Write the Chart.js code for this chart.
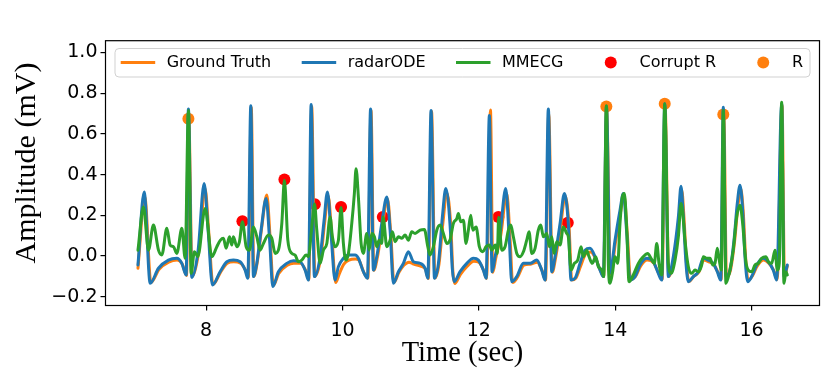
<!DOCTYPE html>
<html>
<head>
<meta charset="utf-8">
<script src="https://cdn.jsdelivr.net/npm/chart.js@4.4.1/dist/chart.umd.min.js"></script>
<style>
html,body{margin:0;padding:0;background:#fff;}
canvas{display:block;}
</style>
</head>
<body>
<canvas id="c" width="830" height="382"></canvas>
<script>
// ---------------- DATA ----------------
const seriesLabels = ['Ground Truth', 'radarODE', 'MMECG', 'Corrupt R', 'R'];
const xTitle = 'Time (sec)';
const yTitle = 'Amplitude (mV)';
const xTicks = [8, 10, 12, 14, 16];
const yTicks = [-0.2, 0.0, 0.2, 0.4, 0.6, 0.8, 1.0];

const gtT = [7.000,7.100,7.190,7.310,7.450,7.575,7.650,7.712,7.745,7.795,7.890,7.985,8.040,8.100,8.210,8.310,8.405,8.505,8.578,8.618,8.662,8.700,8.750,8.815,8.890,8.940,8.985,9.065,9.190,9.285,9.385,9.458,9.506,9.548,9.595,9.680,9.740,9.790,9.845,9.900,9.950,10.020,10.095,10.190,10.240,10.312,10.372,10.418,10.460,10.510,10.585,10.660,10.708,10.755,10.828,10.900,10.975,11.045,11.145,11.218,11.258,11.306,11.356,11.415,11.475,11.530,11.590,11.618,11.645,11.730,11.830,11.925,12.000,12.072,12.112,12.170,12.205,12.248,12.320,12.410,12.460,12.495,12.565,12.660,12.758,12.855,12.928,12.978,13.025,13.076,13.125,13.200,13.265,13.322,13.362,13.420,13.492,13.565,13.638,13.710,13.782,13.830,13.872,13.930,14.005,14.078,14.128,14.178,14.225,14.298,14.372,14.470,14.565,14.638,14.688,14.730,14.786,14.860,14.935,14.975,15.010,15.046,15.080,15.152,15.225,15.298,15.372,15.445,15.504,15.553,15.592,15.632,15.690,15.750,15.800,15.840,15.878,15.912,15.950,16.008,16.082,16.178,16.252,16.325,16.375,16.447,16.482,16.524];
const gtV = [-0.060,0.290,-0.130,-0.065,-0.030,-0.020,-0.040,-0.095,0.674,-0.100,0.020,0.330,0.110,-0.140,-0.080,-0.035,-0.028,-0.035,-0.070,-0.105,0.730,-0.100,-0.030,0.140,0.300,0.080,-0.145,-0.085,-0.045,-0.035,-0.035,-0.070,-0.115,0.735,-0.100,-0.010,0.170,0.295,0.090,-0.130,-0.090,-0.040,-0.020,-0.015,-0.020,-0.080,-0.108,0.715,-0.070,-0.010,0.150,0.280,0.110,-0.130,-0.080,-0.045,-0.030,-0.040,-0.050,-0.065,-0.110,0.710,-0.108,-0.040,0.170,0.310,0.140,-0.070,-0.135,-0.090,-0.050,-0.025,-0.030,-0.072,-0.110,0.717,-0.080,-0.010,0.100,0.306,0.070,-0.130,-0.105,-0.045,-0.040,-0.030,-0.072,-0.118,0.700,-0.080,-0.010,0.150,0.295,0.150,-0.118,-0.110,-0.050,0.010,0.020,-0.010,-0.070,-0.100,0.735,-0.090,0.070,0.215,0.300,0.105,-0.115,-0.100,-0.050,-0.020,-0.035,-0.085,-0.115,0.748,-0.100,-0.010,0.185,0.325,0.180,-0.040,-0.125,-0.100,-0.080,-0.020,-0.028,-0.040,-0.078,-0.115,0.695,-0.100,-0.070,0.070,0.245,0.330,0.215,-0.005,-0.120,-0.100,-0.050,-0.020,-0.035,-0.070,-0.115,0.740,-0.100,-0.050];

const radarT = [7.000,7.091,7.179,7.301,7.447,7.570,7.644,7.707,7.740,7.790,7.883,7.971,8.029,8.092,8.205,8.304,8.400,8.499,8.572,8.611,8.655,8.694,8.743,8.806,8.880,8.931,8.978,9.060,9.183,9.280,9.378,9.452,9.500,9.540,9.588,9.672,9.730,9.779,9.833,9.891,9.940,10.013,10.087,10.185,10.233,10.306,10.365,10.412,10.453,10.503,10.576,10.650,10.698,10.746,10.820,10.893,10.966,11.040,11.138,11.211,11.251,11.299,11.349,11.407,11.465,11.515,11.578,11.610,11.636,11.724,11.823,11.919,11.993,12.066,12.106,12.154,12.194,12.238,12.311,12.394,12.447,12.482,12.556,12.653,12.751,12.849,12.922,12.971,13.019,13.069,13.117,13.191,13.254,13.312,13.352,13.411,13.484,13.557,13.630,13.704,13.777,13.825,13.872,13.924,13.997,14.070,14.119,14.169,14.217,14.290,14.364,14.462,14.559,14.632,14.682,14.726,14.779,14.852,14.926,14.965,14.999,15.038,15.072,15.145,15.219,15.292,15.365,15.438,15.497,15.547,15.585,15.624,15.683,15.742,15.790,15.830,15.869,15.903,15.943,16.001,16.075,16.171,16.245,16.318,16.368,16.441,16.475,16.524];
const radarV = [-0.044,0.315,-0.134,-0.060,-0.020,-0.011,-0.036,-0.093,0.723,-0.105,0.030,0.356,0.127,-0.142,-0.077,-0.028,-0.020,-0.028,-0.069,-0.109,0.739,-0.101,-0.036,0.127,0.283,0.078,-0.150,-0.077,-0.036,-0.023,-0.028,-0.069,-0.118,0.744,-0.101,-0.003,0.176,0.315,0.103,-0.118,-0.052,-0.011,0.005,0.005,-0.011,-0.077,-0.109,0.723,-0.069,-0.003,0.160,0.290,0.127,-0.134,-0.077,-0.036,0.021,-0.028,-0.036,-0.060,-0.109,0.715,-0.109,-0.036,0.192,0.332,0.150,-0.060,-0.126,-0.077,-0.036,-0.011,-0.020,-0.069,-0.109,0.690,-0.077,-0.003,0.111,0.332,0.078,-0.126,-0.101,-0.036,-0.036,-0.020,-0.069,-0.118,0.723,-0.077,-0.003,0.160,0.307,0.160,-0.118,-0.109,-0.036,0.029,0.038,-0.003,-0.069,-0.101,0.735,-0.085,0.078,0.225,0.307,0.111,-0.118,-0.101,-0.044,-0.011,-0.028,-0.085,-0.118,0.748,-0.101,-0.003,0.192,0.343,0.192,-0.036,-0.126,-0.101,-0.077,-0.011,-0.020,-0.036,-0.077,-0.118,0.731,-0.101,-0.069,0.078,0.258,0.348,0.225,-0.003,-0.126,-0.101,-0.044,-0.011,-0.028,-0.069,-0.118,0.748,-0.101,-0.044];

const mmecgT = [7.000,7.081,7.154,7.227,7.301,7.350,7.424,7.472,7.521,7.570,7.644,7.692,7.740,7.780,7.828,7.878,7.985,8.084,8.157,8.210,8.254,8.293,8.342,8.377,8.400,8.450,8.488,8.532,8.587,8.635,8.694,8.743,8.792,8.840,8.914,8.963,9.012,9.060,9.110,9.148,9.198,9.257,9.305,9.353,9.403,9.466,9.500,9.550,9.590,9.623,9.672,9.720,9.770,9.818,9.852,9.891,9.940,9.979,10.013,10.048,10.087,10.136,10.174,10.199,10.233,10.273,10.306,10.356,10.390,10.430,10.468,10.503,10.537,10.576,10.596,10.650,10.698,10.732,10.772,10.820,10.870,10.918,10.966,11.016,11.064,11.138,11.201,11.251,11.284,11.333,11.383,11.431,11.480,11.529,11.578,11.626,11.676,11.699,11.735,11.773,11.812,11.846,11.881,11.911,11.959,12.007,12.057,12.106,12.154,12.189,12.238,12.272,12.290,12.336,12.384,12.433,12.468,12.506,12.556,12.604,12.653,12.702,12.736,12.776,12.824,12.872,12.908,12.946,12.996,13.034,13.069,13.103,13.142,13.191,13.239,13.289,13.312,13.352,13.400,13.450,13.499,13.532,13.582,13.616,13.664,13.714,13.752,13.802,13.831,13.870,13.899,13.924,13.958,13.998,14.037,14.070,14.104,14.134,14.169,14.202,14.265,14.339,14.412,14.476,14.525,14.573,14.609,14.642,14.682,14.726,14.779,14.819,14.877,14.926,14.965,14.990,15.023,15.072,15.122,15.170,15.219,15.268,15.292,15.342,15.390,15.430,15.463,15.497,15.526,15.555,15.585,15.624,15.672,15.731,15.781,15.830,15.869,15.913,15.951,16.001,16.050,16.098,16.147,16.210,16.245,16.295,16.343,16.377,16.406,16.441,16.475,16.504,16.524];
const mmecgV = [0.029,0.241,0.029,0.152,0.029,0.005,0.136,0.054,0.046,0.013,0.136,-0.011,0.715,-0.085,0.021,-0.003,0.234,-0.003,0.046,0.078,0.087,0.038,0.095,0.054,0.095,0.046,0.070,0.168,0.046,0.029,0.143,0.095,0.029,0.062,0.103,0.087,0.013,0.029,0.160,0.372,0.078,0.013,0.005,-0.028,-0.020,0.005,-0.003,0.143,0.256,0.127,-0.036,0.029,0.062,0.192,0.095,0.046,0.078,0.238,0.062,-0.020,0.013,0.160,0.307,0.429,0.290,0.062,0.013,0.111,0.029,0.111,0.095,0.046,0.078,0.062,0.192,0.046,0.078,0.119,0.070,0.095,0.087,0.103,0.078,0.119,0.111,0.127,0.131,0.046,0.005,0.046,0.127,0.152,0.111,0.062,0.080,0.160,0.184,0.209,0.168,0.176,0.062,0.127,0.201,0.127,0.143,0.046,0.021,0.046,0.054,0.029,0.054,0.013,0.190,0.029,0.046,0.127,0.152,0.095,0.013,-0.003,0.021,0.078,0.119,0.013,0.038,0.127,0.152,0.095,0.111,0.046,0.095,0.013,0.070,0.054,0.143,0.111,0.095,-0.069,-0.036,-0.020,0.046,-0.003,0.029,-0.003,-0.036,-0.003,-0.052,-0.069,-0.101,0.739,-0.036,-0.134,-0.085,-0.003,-0.036,0.160,0.290,0.307,0.127,-0.126,-0.093,-0.036,-0.003,0.013,-0.011,-0.036,0.062,-0.036,-0.093,0.748,-0.036,-0.085,-0.020,0.095,0.258,0.209,0.078,-0.052,-0.085,-0.069,-0.077,-0.044,-0.003,-0.011,-0.011,-0.044,-0.036,0.038,-0.020,-0.069,0.715,-0.134,-0.085,0.029,0.192,0.250,0.160,-0.020,-0.069,-0.077,-0.044,-0.036,-0.011,-0.003,-0.028,-0.036,0.029,-0.069,-0.036,0.756,-0.134,-0.077,-0.093];

const corruptT = [8.532, 9.148, 9.594, 9.979, 10.591, 12.286, 13.304];
const corruptV = [0.171, 0.376, 0.255, 0.241, 0.192, 0.192, 0.163];

const rT = [7.740, 13.870, 14.726, 15.585];
const rV = [0.674, 0.735, 0.748, 0.695];

// ---------------- CHART ----------------
const toXY = (ts, vs) => ts.map((t, i) => ({x: t, y: vs[i]}));
const C_ORANGE = '#ff7f0e', C_BLUE = '#1f77b4', C_GREEN = '#2ca02c', C_RED = '#ff0000';

const lineCommon = {
  pointRadius: 0, borderWidth: 3, fill: false,
  cubicInterpolationMode: 'monotone',
  borderJoinStyle: 'round', borderCapStyle: 'round'
};

const datasets = [
  Object.assign({label: seriesLabels[0], data: toXY(gtT, gtV), borderColor: C_ORANGE, order: 3}, lineCommon),
  Object.assign({label: seriesLabels[1], data: toXY(radarT, radarV), borderColor: C_BLUE, order: 2}, lineCommon),
  Object.assign({label: seriesLabels[2], data: toXY(mmecgT, mmecgV), borderColor: C_GREEN, order: 1}, lineCommon),
  {label: seriesLabels[3], type: 'scatter', data: toXY(corruptT, corruptV), showLine: false,
   pointRadius: 6, pointBackgroundColor: C_RED, pointBorderWidth: 0, borderColor: C_RED, backgroundColor: C_RED, order: 4},
  {label: seriesLabels[4], type: 'scatter', data: toXY(rT, rV), showLine: false,
   pointRadius: 6, pointBackgroundColor: C_ORANGE, pointBorderWidth: 0, borderColor: C_ORANGE, backgroundColor: C_ORANGE, order: 5}
];

const legendStyle = {
  box: {x: 115, y: 48.5, w: 695, h: 28.5, r: 4},
  handleStarts: [120.7, 301.7, 456, 593.5, 746],
  handleLen: 34.5, textGap: 46, cy: 62.5,
  font: '16px "DejaVu Sans"'
};
const yTitleStyle = {x: 27, y: 163, font: '30px "Liberation Serif"'};

const framePlugin = {
  id: 'frameAndLegend',
  afterDraw(chart) {
    const {ctx, chartArea: a} = chart;
    ctx.save();
    ctx.strokeStyle = '#000';
    ctx.lineWidth = 1.2;
    ctx.strokeRect(a.left, a.top, a.right - a.left, a.bottom - a.top);
    // y axis title
    ctx.save();
    ctx.translate(yTitleStyle.x, yTitleStyle.y);
    ctx.rotate(-Math.PI / 2);
    ctx.font = yTitleStyle.font;
    ctx.fillStyle = '#000';
    ctx.textAlign = 'center';
    ctx.textBaseline = 'middle';
    ctx.fillText(yTitle, 0, 0);
    ctx.restore();
    // legend
    const L = legendStyle;
    ctx.beginPath();
    if (ctx.roundRect) ctx.roundRect(L.box.x, L.box.y, L.box.w, L.box.h, L.box.r);
    else ctx.rect(L.box.x, L.box.y, L.box.w, L.box.h);
    ctx.fillStyle = 'rgba(255,255,255,0.8)';
    ctx.fill();
    ctx.strokeStyle = 'rgba(204,204,204,0.9)';
    ctx.lineWidth = 1;
    ctx.stroke();
    ctx.font = L.font;
    ctx.textBaseline = 'middle';
    ctx.textAlign = 'left';
    chart.data.datasets.forEach((ds, i) => {
      const hx = L.handleStarts[i];
      if (ds.type === 'scatter') {
        ctx.beginPath();
        ctx.fillStyle = ds.pointBackgroundColor;
        ctx.arc(hx + L.handleLen / 2, L.cy, 6, 0, Math.PI * 2);
        ctx.fill();
      } else {
        ctx.beginPath();
        ctx.strokeStyle = ds.borderColor;
        ctx.lineWidth = 3;
        ctx.moveTo(hx, L.cy);
        ctx.lineTo(hx + L.handleLen, L.cy);
        ctx.stroke();
      }
      ctx.fillStyle = '#000';
      ctx.fillText(ds.label, hx + L.textGap, L.cy);
    });
    ctx.restore();
  }
};

const tickFont = {family: '"DejaVu Sans"', size: 19};
const titleFont = {family: '"Liberation Serif"', size: 28.5};

new Chart(document.getElementById('c').getContext('2d'), {
  type: 'line',
  data: {datasets},
  options: {
    responsive: false, animation: false, devicePixelRatio: 1,
    layout: {padding: {top: 40.7, right: 10.5, left: 0, bottom: 0}},
    plugins: {legend: {display: false}, tooltip: {enabled: false}},
    scales: {
      x: {
        type: 'linear', min: 6.524, max: 16.996,
        afterBuildTicks: s => { s.ticks = xTicks.map(v => ({value: v})); },
        afterFit: s => { s.height = 76.5; },
        grid: {display: true, drawOnChartArea: false, drawTicks: true, tickLength: 5, color: '#000', lineWidth: 1.2},
        border: {display: false},
        ticks: {font: tickFont, color: '#000', padding: 9, maxRotation: 0,
                callback: v => String(Math.round(v))},
        title: {display: true, text: xTitle, font: titleFont, color: '#000', padding: {top: 0, bottom: 11}}
      },
      y: {
        type: 'linear', min: -0.243, max: 1.058,
        afterBuildTicks: s => { s.ticks = yTicks.map(v => ({value: v})); },
        afterFit: s => { s.width = 105.5; },
        grid: {display: true, drawOnChartArea: false, drawTicks: true, tickLength: 5, color: '#000', lineWidth: 1.2},
        border: {display: false},
        ticks: {font: tickFont, color: '#000', padding: 3,
                callback: v => (v < 0 ? '\u2212' : '') + Math.abs(v).toFixed(1)},
        title: {display: false}
      }
    }
  },
  plugins: [framePlugin]
});
</script>
</body>
</html>
